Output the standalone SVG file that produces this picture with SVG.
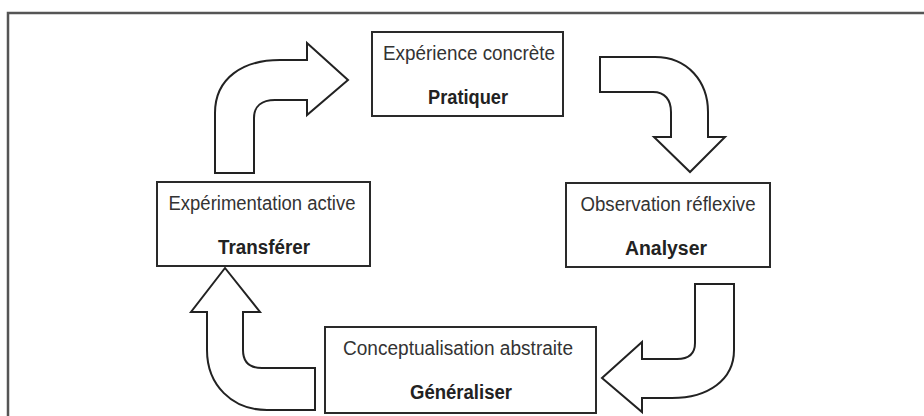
<svg xmlns="http://www.w3.org/2000/svg" width="924" height="416" viewBox="0 0 924 416">
<style>
.frame{fill:none;stroke:#555;stroke-width:2.5}
.box{fill:#fff;stroke:#2a2a2a;stroke-width:2}
.arrow{fill:#fff;stroke:#222;stroke-width:2;stroke-linejoin:miter}
.t1{font-family:"Liberation Sans",Arial,sans-serif;font-size:20px;fill:#333;text-anchor:middle}
.t2{font-family:"Liberation Sans",Arial,sans-serif;font-size:20px;font-weight:bold;fill:#222;text-anchor:middle}
</style>
<rect width="924" height="416" fill="#fff"/>
<path class="frame" d="M 930 13 L 8 13 L 8 420"/>
<g id="connectors">
<path class="arrow" d="M 215 173 L 215 113 C 215 78 243 60 280 60 L 307 60 L 307 43 L 348 80 L 307 115 L 307 100 L 275 100 C 262 100 254 106 254 118 L 254 173 Z"/>
<path class="arrow" d="M 600 57 L 655 57 C 688 57 708 82 708 112 L 708 137 L 725 137 L 690 172 L 654 137 L 671 137 L 671 112 C 671 100 665 92 653 92 L 600 92 Z"/>
<path class="arrow" d="M 695 284 L 734 284 L 734 350 C 734 380 708 398 672 398 L 642 398 L 642 412 L 602 378 L 642 342 L 642 359 L 677 359 C 689 359 695 353 695 343 Z"/>
<path class="arrow" d="M 315 368 L 315 410 L 267 410 C 232 410 207 385 207 350 L 207 312 L 191 312 L 225 268 L 260 312 L 243 312 L 243 350 C 243 362 250 368 262 368 Z"/>
</g>
<g id="node-experience">
<rect class="box" x="372" y="32" width="191" height="84"/>
<text class="t1" x="469" y="60" textLength="172" lengthAdjust="spacingAndGlyphs">Expérience concrète</text>
<text class="t2" x="468" y="104" textLength="80" lengthAdjust="spacingAndGlyphs">Pratiquer</text>
</g>
<g id="node-observation">
<rect class="box" x="566" y="183" width="204" height="84"/>
<text class="t1" x="668" y="211" textLength="175" lengthAdjust="spacingAndGlyphs">Observation réflexive</text>
<text class="t2" x="666" y="255" textLength="82" lengthAdjust="spacingAndGlyphs">Analyser</text>
</g>
<g id="node-conceptualisation">
<rect class="box" x="325" y="327" width="271" height="86"/>
<text class="t1" x="458" y="355" textLength="230" lengthAdjust="spacingAndGlyphs">Conceptualisation abstraite</text>
<text class="t2" x="461" y="399" textLength="102" lengthAdjust="spacingAndGlyphs">Généraliser</text>
</g>
<g id="node-experimentation">
<rect class="box" x="157" y="182" width="213" height="84"/>
<text class="t1" x="262" y="210" textLength="187" lengthAdjust="spacingAndGlyphs">Expérimentation active</text>
<text class="t2" x="264" y="254" textLength="92" lengthAdjust="spacingAndGlyphs">Transférer</text>
</g>
</svg>
